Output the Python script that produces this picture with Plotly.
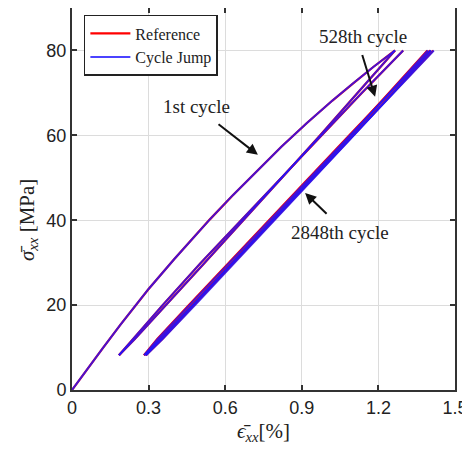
import plotly.graph_objects as go

# ---------------- data (strain in %, stress in MPa) ----------------
# 1st cycle: loading from origin
c1_load_x = [0, 0.06, 0.12, 0.19, 0.25, 0.30, 0.40, 0.54, 0.63, 0.72, 0.82, 0.92, 1.02, 1.10, 1.18, 1.265]
c1_load_y = [0, 5.0, 9.8, 15.4, 20.0, 23.8, 30.8, 40.2, 45.9, 51.4, 57.3, 62.9, 68.2, 72.2, 76.1, 80.0]
# 1st cycle unloading and reloading
c1_unload_x = [1.265, 1.120, 0.972, 0.822, 0.672, 0.520, 0.368, 0.246, 0.184]
c1_unload_y = [80, 70, 60, 50, 40, 30, 20, 12, 8.2]
c1_reload_x = [0.184, 0.238, 0.355, 0.505, 0.662, 0.818, 0.975, 1.135, 1.297]
c1_reload_y = [8.2, 12, 20, 30, 40, 50, 60, 70, 80]

# 528th cycle (reference)
c528_unload_x = [1.392, 1.243, 1.091, 0.937, 0.783, 0.628, 0.473, 0.348, 0.282]
c528_reload_x = [0.282, 0.334, 0.458, 0.614, 0.771, 0.928, 1.086, 1.244, 1.402]
# 2848th cycle (reference)
c2848_unload_x = [1.405, 1.256, 1.102, 0.947, 0.791, 0.636, 0.480, 0.354, 0.289]
c2848_reload_x = [0.289, 0.342, 0.470, 0.627, 0.784, 0.941, 1.097, 1.254, 1.415]
# cycle jump estimates of the same cycles
cj528_unload_x = [1.394, 1.245, 1.093, 0.939, 0.785, 0.630, 0.475, 0.350, 0.283]
cj528_reload_x = [0.283, 0.335, 0.460, 0.616, 0.773, 0.930, 1.088, 1.246, 1.404]
cj2848_unload_x = [1.407, 1.258, 1.104, 0.949, 0.793, 0.638, 0.482, 0.355, 0.290]
cj2848_reload_x = [0.290, 0.343, 0.472, 0.629, 0.786, 0.943, 1.099, 1.256, 1.417]
unload_y = [80, 70, 60, 50, 40, 30, 20, 12, 8.2]
reload_y = [8.2, 12, 20, 30, 40, 50, 60, 70, 80]

x_ticks = [0, 0.3, 0.6, 0.9, 1.2, 1.5]
y_ticks = [0, 20, 40, 60, 80]


def join(*segs):
    xs, ys = [], []
    for sx, sy in segs:
        xs += list(sx) + [None]
        ys += list(sy) + [None]
    return xs, ys


ref_x, ref_y = join((c1_load_x, c1_load_y), (c1_unload_x, c1_unload_y), (c1_reload_x, c1_reload_y),
                    (c528_unload_x, unload_y), (c528_reload_x, reload_y),
                    (c2848_unload_x, unload_y), (c2848_reload_x, reload_y))
cj_x, cj_y = join((c1_load_x, c1_load_y), (c1_unload_x, c1_unload_y), (c1_reload_x, c1_reload_y),
                  (cj528_unload_x, unload_y), (cj528_reload_x, reload_y),
                  (cj2848_unload_x, unload_y), (cj2848_reload_x, reload_y))

fig = go.Figure()
fig.add_trace(go.Scatter(x=ref_x, y=ref_y, mode="lines", name="Reference",
                         line=dict(color="#ff0000", width=2.2)))
fig.add_trace(go.Scatter(x=cj_x, y=cj_y, mode="lines", name="Cycle Jump",
                         line=dict(color="rgba(30,20,255,0.8)", width=2)))

serif = "Liberation Serif, Times New Roman, serif"
sans = "Liberation Sans, Arial, sans-serif"

annos = []
# labels
for txt, x, y in [("1st cycle", 0.486, 66.7), ("528th cycle", 1.138, 83.4), ("2848th cycle", 1.050, 37.2)]:
    annos.append(dict(x=x, y=y, xref="x", yref="y", text=txt, showarrow=False,
                      font=dict(family=serif, size=19, color="#222")))
# arrows (head x,y ; tail ax,ay)
for hx, hy, tx, ty in [(0.728, 55.4, 0.568, 62.9), (1.187, 69.1, 1.135, 79.3), (0.913, 46.4, 1.003, 41.2)]:
    annos.append(dict(x=hx, y=hy, ax=tx, ay=ty, xref="x", yref="y", axref="x", ayref="y",
                      text="", showarrow=True, arrowhead=2, arrowsize=1.1, arrowwidth=2,
                      arrowcolor="#111"))
# axis titles
annos.append(dict(x=0.499, y=0, xref="paper", yref="paper", xanchor="center", yanchor="top",
                  yshift=-27, showarrow=False, text="<i>ϵ̄<sub>xx</sub></i>[%]",
                  font=dict(family=serif, size=21, color="#222")))
annos.append(dict(x=0, y=0.445, xref="paper", yref="paper", xanchor="center", yanchor="middle",
                  xshift=-44, textangle=-90, showarrow=False, text="<i>σ̄<sub>xx</sub></i> [MPa]",
                  font=dict(family=serif, size=21, color="#222")))

# the page body adds an 8px offset; size and margins compensate for it
fig.update_layout(
    width=462, height=445,
    margin=dict(l=64, r=15, t=0, b=63, autoexpand=False),
    paper_bgcolor="white", plot_bgcolor="white",
    showlegend=True,
    legend=dict(x=0.031, y=0.982, xanchor="left", yanchor="top",
                bgcolor="white", bordercolor="#222", borderwidth=1.5,
                font=dict(family=serif, size=16, color="#222"),
                tracegroupgap=0, itemwidth=40),
    annotations=annos,
)
axis_common = dict(showline=True, linecolor="#333", linewidth=2, mirror="ticks",
                   ticks="inside", ticklen=5, tickwidth=1.5, tickcolor="#333",
                   showgrid=True, gridcolor="#dcdcdc", gridwidth=1, zeroline=False,
                   automargin=False,
                   tickfont=dict(family=sans, size=18, color="#222"))
fig.update_xaxes(range=[0, 1.5], tickvals=x_ticks, ticktext=[str(v) for v in x_ticks],
                 **axis_common)
fig.update_yaxes(range=[0, 90], tickvals=y_ticks, ticktext=[str(v) for v in y_ticks],
                 **axis_common)

fig.write_html("out.html")
